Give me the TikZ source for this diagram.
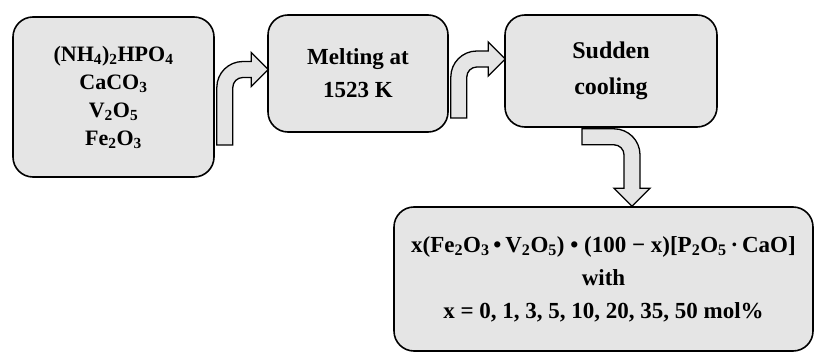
\documentclass[tikz,border=0pt]{standalone}
\usepackage{fontspec}
\setmainfont{Liberation Serif}
\usetikzlibrary{calc}
\definecolor{boxfill}{gray}{0.9}
\newcommand\subs[1]{\textsubscript{#1}}
\begin{document}
\begin{tikzpicture}[x=1pt, y=1pt,
  stage/.style={draw=black, line width=1.6pt, fill=boxfill, rounded corners=20pt,
    align=center, inner sep=0pt},
  pipe/.style={draw=black, line width=1.3pt, fill=boxfill, line join=miter}]
\useasboundingbox (0,0) rectangle (816,354);
% process steps
\node[stage, minimum width=201pt, minimum height=160pt,
  font=\bfseries\fontsize{22}{28}\selectfont] (mix) at (113.5,257)
  {(NH\subs{4})\subs{2}HPO\subs{4}\\CaCO\subs{3}\\V\subs{2}O\subs{5}\\Fe\subs{2}O\subs{3}};
\node[stage, minimum width=180pt, minimum height=117pt,
  font=\bfseries\fontsize{23}{33}\selectfont] (melt) at (358,280.5)
  {Melting at\\1523 K};
\node[stage, minimum width=212pt, minimum height=112pt,
  font=\bfseries\fontsize{24}{36}\selectfont] (cool) at (611,283)
  {\raisebox{4pt}{Sudden}\\\raisebox{4pt}{cooling}};
\node[stage, minimum width=419pt, minimum height=144pt,
  font=\bfseries\fontsize{23}{33}\selectfont] (glass) at (603.5,75)
  {x(Fe\subs{2}O\subs{3}\,•\,V\subs{2}O\subs{5}) • (100 − x)[P\subs{2}O\subs{5}\,·\,CaO]\\
   with\\x = 0, 1, 3, 5, 10, 20, 35, 50 mol\%};
% bent arrows
\coordinate (s1) at ($(mix.east)+(2,-48)$);
\coordinate (t1) at ($(melt.west)+(1,4)$);
\coordinate (s2) at ($(melt.east)+(2,-44.5)$);
\coordinate (t2) at ($(cool.west)+(1,12)$);
\coordinate (s3) at ($(cool.south)+(-29,-1)$);
\coordinate (t3) at ($(glass.north)+(28.5,0)$);
\foreach \s/\t in {s1/t1, s2/t2}
  \draw[pipe] let \p1=(\s), \p2=(\t) in
    (\p1) -- (\x1+16,\y1) -- (\x1+16,\y2-18)
    arc[start angle=180, end angle=90, radius=10]
    -- (\x2-17,\y2-8) -- (\x2-17,\y2-17) -- (\p2) -- (\x2-17,\y2+17)
    -- (\x2-17,\y2+8) -- (\x1+26,\y2+8)
    arc[start angle=90, end angle=180, radius=26] -- cycle;
\draw[pipe] let \p1=(s3), \p2=(t3) in
  (\p1) -- (\x2-18,\y1) arc[start angle=90, end angle=0, radius=26]
  -- (\x2+8,\y2+18) -- (\x2+18,\y2+18) -- (\p2) -- (\x2-18,\y2+18)
  -- (\x2-8,\y2+18) -- (\x2-8,\y1-26)
  arc[start angle=0, end angle=90, radius=10] -- (\x1,\y1-16) -- cycle;
\end{tikzpicture}
\end{document}
